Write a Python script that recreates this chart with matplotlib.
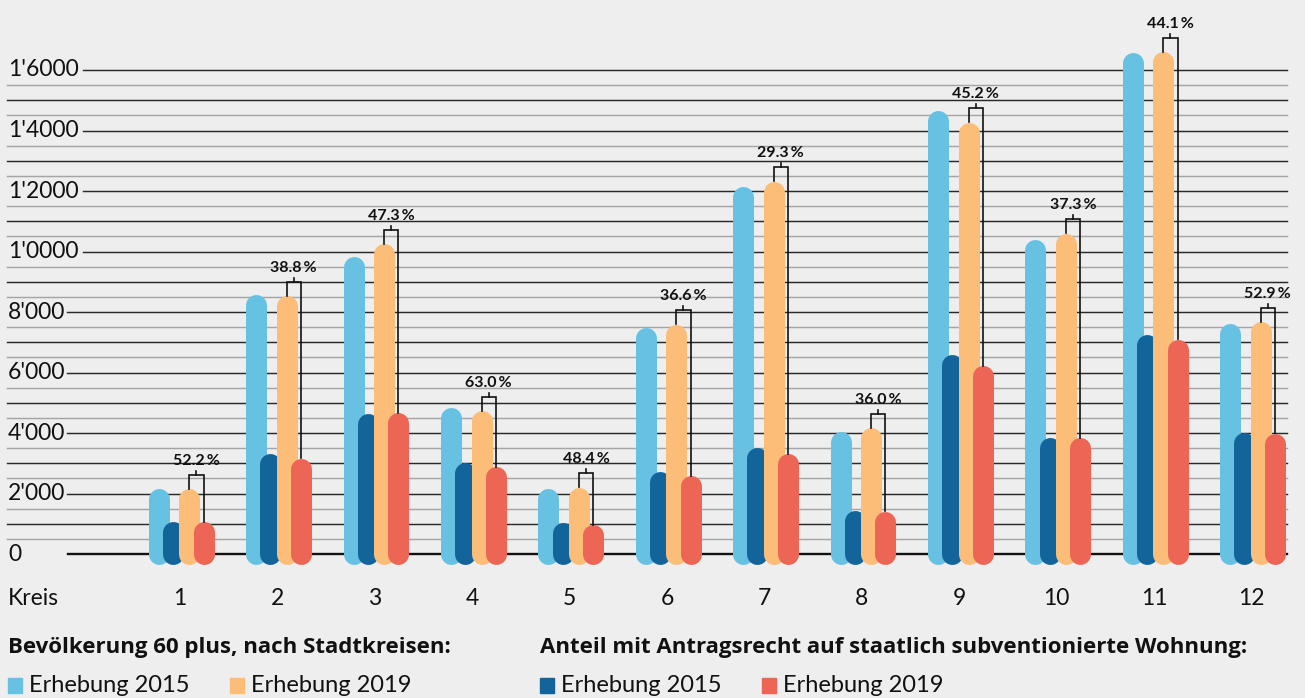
import matplotlib
matplotlib.use('Agg')
import matplotlib.pyplot as plt
from matplotlib.patches import Rectangle

# Bevoelkerung 60 plus nach Stadtkreis (Werte aus der Grafik geschaetzt)
kreise = ['1', '2', '3', '4', '5', '6', '7', '8', '9', '10', '11', '12']
total_2015 = [2150, 8570, 9830, 4830, 2180, 7480, 12140, 4040, 14650, 10410, 16590, 7630]
total_2019 = [2150, 8530, 10250, 4730, 2200, 7590, 12320, 4180, 14270, 10610, 16600, 7680]
berecht_2015 = [1090, 3310, 4650, 3020, 1030, 2720, 3530, 1430, 6610, 3860, 7270, 4020]
berecht_2019 = [1060, 3170, 4670, 2890, 960, 2590, 3310, 1410, 6230, 3850, 7100, 4000]
anteil = ['52.2', '38.8', '47.3', '63.0', '48.4', '36.6', '29.3', '36.0', '45.2', '37.3', '44.1', '52.9']
ytick_vals = [0, 2000, 4000, 6000, 8000, 10000, 12000, 14000, 16000]
ytick_labels = ['0', "2'000", "4'000", "6'000", "8'000", "1'0000", "1'2000", "1'4000", "1'6000"]

BG = '#eeeeee'
C_LB = '#67c1e3'
C_DB = '#12649a'
C_OR = '#fbbd77'
C_RD = '#ec6555'
FONT = ['Lato', 'DejaVu Sans']
FONT_HEAD = ['Open Sans', 'DejaVu Sans']

W, H = 1305, 698
fig = plt.figure(figsize=(W / 100, H / 100), dpi=100, facecolor=BG)
ax = fig.add_axes([0, 0, 1, 1])
ax.set_facecolor(BG)
ax.set_xlim(-0.848, 12.55)
ax.set_ylim(-4760, 18314)
ax.axis('off')

upp = (18314 + 4760) / H  # data units per pixel (y)
gw = 97.4                 # pixels per group


def fx(px):
    return px / W


def fy(py):
    return 1 - py / H


# gridlines
for v in range(0, 16001, 500):
    if v == 0:
        ax.axhline(v, xmin=fx(68), xmax=fx(1287), color='#111111', lw=1.7, zorder=1)
    elif v % 2000 == 0:
        start = 83 if v >= 10000 else 67
        ax.axhline(v, xmin=fx(start), xmax=fx(1287), color='#2a2a2a', lw=1.05, zorder=1)
    elif v % 1000 == 0:
        ax.axhline(v, xmin=fx(7), xmax=fx(1287), color='#2a2a2a', lw=1.05, zorder=1)
    else:
        ax.axhline(v, xmin=fx(7), xmax=fx(1287), color='#a5a5a5', lw=1.05, zorder=1)

for v, lab in zip(ytick_vals, ytick_labels):
    ax.text(fx(8), v, lab, transform=ax.get_yaxis_transform(), ha='left',
            va='center', fontsize=16.5, family=FONT, color='#111111')

# capsule bars
bw_px = 21
lw = bw_px * 72 / 100
r = bw_px / 2 * upp
offs = [-21.3 / gw, -7.0 / gw, 9.3 / gw, 23.5 / gw]
series = [(total_2015, C_LB), (berecht_2015, C_DB), (total_2019, C_OR), (berecht_2019, C_RD)]

for i in range(len(kreise)):
    x0 = i + 1
    for k, (vals, col) in enumerate(series):
        ax.plot([x0 + offs[k], x0 + offs[k]], [0, vals[i] - r], color=col, lw=lw,
                solid_capstyle='round', zorder=2 + k)
    xo = x0 + offs[2]
    xr = x0 + offs[3]
    top = total_2019[i] + 14 * upp
    ax.plot([xo, xo, xr, xr], [total_2019[i], top, top, berecht_2019[i]],
            color='#111111', lw=1.2, zorder=7, solid_joinstyle='miter')
    xm = (xo + xr) / 2
    ax.plot([xm, xm], [top, top + 4 * upp], color='#111111', lw=1.2, zorder=7)
    ax.text(xm, top + 10 * upp, anteil[i] + '\u2009%', ha='center', va='baseline',
            fontsize=11.5, fontweight='bold', family=FONT, color='#111111', zorder=8)
    ax.text(x0, -1455, kreise[i], ha='center', va='center', fontsize=16.5,
            family=FONT, color='#111111')

ax.text(fx(8), -1455, 'Kreis', transform=ax.get_yaxis_transform(), ha='left',
        va='center', fontsize=16.5, family=FONT, color='#111111')

# legend
fig.text(fx(8), fy(648), 'Bevölkerung 60 plus, nach Stadtkreisen:', ha='left', va='center',
         fontsize=16, fontweight='bold', family=FONT_HEAD, color='#111111')
fig.text(fx(540), fy(648), 'Anteil mit Antragsrecht auf staatlich subventionierte Wohnung:',
         ha='left', va='center', fontsize=16, fontweight='bold', family=FONT_HEAD, color='#111111')

legend_items = [(8, C_LB, 'Erhebung 2015'), (230, C_OR, 'Erhebung 2019'),
                (540, C_DB, 'Erhebung 2015'), (762, C_RD, 'Erhebung 2019')]
for xpx, col, lab in legend_items:
    fig.patches.append(Rectangle((fx(xpx), fy(693)), 14 / W, 15 / H, color=col,
                                 transform=fig.transFigure, figure=fig))
    fig.text(fx(xpx + 21), fy(686), lab, ha='left', va='center', fontsize=17,
             family=FONT, color='#111111')

fig.savefig('out.png', dpi=100, facecolor=BG)
